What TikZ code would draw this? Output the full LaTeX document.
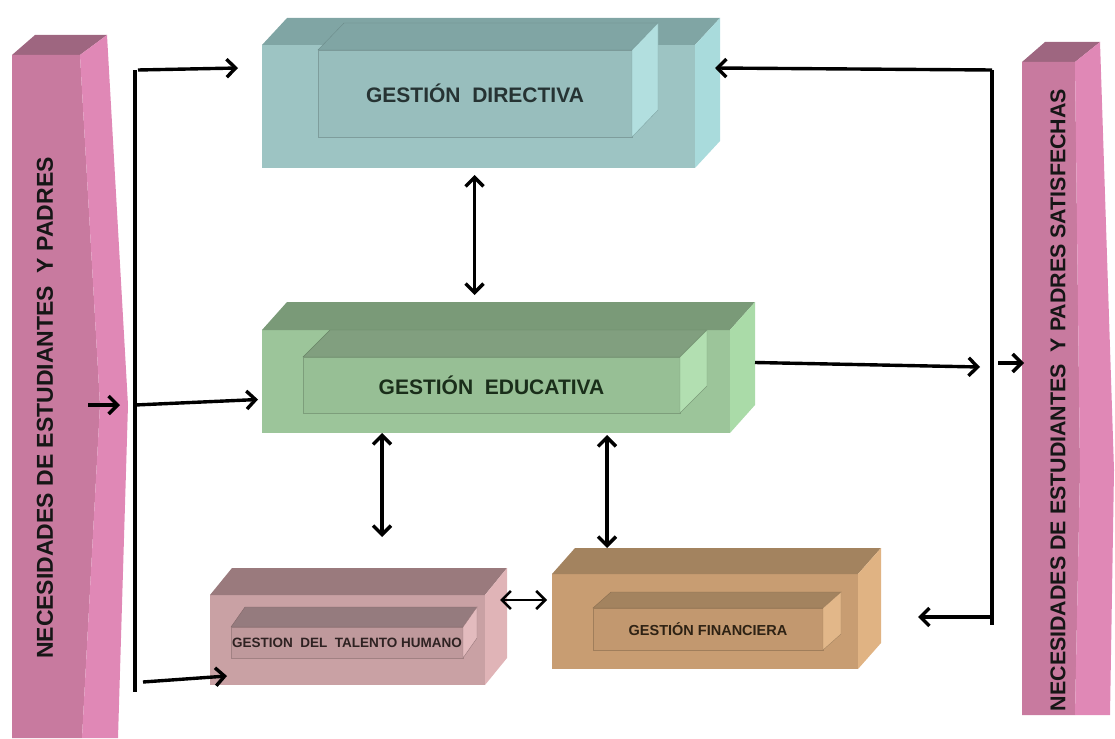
\documentclass[tikz,border=0pt]{standalone}
\usepackage{fontspec}
\setmainfont{Liberation Sans}
\usepackage{xcolor}
\usetikzlibrary{arrows.meta,calc,positioning}

\definecolor{dirfront}{HTML}{9DC4C3}
\definecolor{dirtop}{HTML}{80A5A4}
\definecolor{dirside}{HTML}{A9DBDC}
\definecolor{dirtext}{HTML}{263333}
\definecolor{edufront}{HTML}{9CC59A}
\definecolor{edutop}{HTML}{7A9A78}
\definecolor{eduside}{HTML}{AADBA8}
\definecolor{edutext}{HTML}{1A2E1A}
\definecolor{talfront}{HTML}{C9A1A4}
\definecolor{taltop}{HTML}{9A7A7D}
\definecolor{talside}{HTML}{E0B4B7}
\definecolor{taltext}{HTML}{2E2222}
\definecolor{finfront}{HTML}{C89D72}
\definecolor{fintop}{HTML}{A3835F}
\definecolor{finside}{HTML}{E0B383}
\definecolor{fintext}{HTML}{2E2214}
\definecolor{banfront}{HTML}{C87A9F}
\definecolor{bantop}{HTML}{9E6680}
\definecolor{banside}{HTML}{E088B6}
\definecolor{bantext}{HTML}{161616}

% top and side faces of a box drawn behind a front node
\newcommand{\extrude}[5]{%
  \path[#4] (#1.north west) -- ++(#2,-#3) -- ($(#1.north east)+(#2,-#3)$) -- (#1.north east) -- cycle;
  \path[#5] (#1.north east) -- ++(#2,-#3) -- ($(#1.south east)+(#2,-#3)$) -- (#1.south east) -- cycle;
}

\begin{document}
\begin{tikzpicture}[
    x=1pt, y=-1pt,
    facebox/.style={rectangle, inner sep=0, outer sep=0},
    inbox/.style={facebox, draw=#1!80!black, line width=0.4pt},
    bigtext/.style={font=\bfseries\fontsize{21}{21}\selectfont},
    smalltext/.style={font=\bfseries\fontsize{13.5}{13.5}\selectfont},
    bantext/.style={rotate=90, text=bantext, font=\bfseries\fontsize{23}{23}\selectfont},
    vline/.style={line width=3.6pt},
    arr/.style={-{Straight Barb[length=9pt,width=18pt]}, line width=3.4pt},
    dbl/.style={{Straight Barb[length=9pt,width=18pt]}-{Straight Barb[length=9pt,width=18pt]}, line width=3.4pt}]
\useasboundingbox (0,0) rectangle (1115,738);

% side banners
\fill[bantop] (12,55) -- (35,35) -- (107,35) -- (80,55) -- cycle;
\fill[banfront] (12,55) -- (80,55) -- (100,405) -- (82,738) -- (12,738) -- cycle;
\fill[banside] (80,55) -- (107,35) -- (128,405) -- (118,738) -- (82,738) -- (100,405) -- cycle;
\coordinate (lpoint) at (128,405);
\node[bantext] (lneeds) at (45,408) {NECESIDADES DE ESTUDIANTES\ \ Y PADRES};

\fill[bantop] (1022,62) -- (1045,42) -- (1100,42) -- (1075,62) -- cycle;
\fill[banfront] (1022,62) -- (1075,62) -- (1080,470) -- (1075,715) -- (1022,715) -- cycle;
\fill[banside] (1075,62) -- (1100,42) -- (1114,470) -- (1110,715) -- (1075,715) -- (1080,470) -- cycle;
\coordinate (rpoint) at (1024,363);
\node[bantext, font=\bfseries\fontsize{21.4}{21.4}\selectfont] (rneeds) at (1058,400) {NECESIDADES DE ESTUDIANTES\ \ Y PADRES SATISFECHAS};

% gestion directiva
\node[facebox, fill=dirfront, minimum width=433, minimum height=123] (dir) at (478.5,106.5) {};
\extrude{dir}{25}{27}{fill=dirtop}{fill=dirside}
\node[inbox=dirfront, fill=dirfront!97!black, minimum width=314, minimum height=87, bigtext, text=dirtext] (dirin) at (475,93.5) {GESTIÓN\ \ DIRECTIVA};
\extrude{dirin}{26}{27}{fill=dirtop, draw=dirtop!85!black, line width=0.4pt}{fill=dirside!90!white, draw=dirtop, line width=0.4pt}

% gestion educativa
\node[facebox, fill=edufront, minimum width=468, minimum height=103] (edu) at (496,381.5) {};
\extrude{edu}{25}{28}{fill=edutop}{fill=eduside}
\node[inbox=edufront, fill=edufront!97!black, minimum width=377, minimum height=56, bigtext, text=edutext] (eduin) at (491.5,385) {GESTIÓN\ \ EDUCATIVA};
\extrude{eduin}{27}{27}{fill=edutop!95!white, draw=edutop!85!black, line width=0.4pt}{fill=eduside!90!white, draw=edutop, line width=0.4pt}

% gestion del talento humano
\node[facebox, fill=talfront, minimum width=275, minimum height=90] (tal) at (347.5,640) {};
\extrude{tal}{22}{27}{fill=taltop}{fill=talside}
\node[inbox=talfront, fill=talfront!95!black, minimum width=232, minimum height=31, smalltext, text=taltext] (talin) at (347,642.5) {GESTION\ \ DEL\ \ TALENTO HUMANO};
\extrude{talin}{14}{20}{fill=taltop!80!gray, draw=taltop!85!black, line width=0.4pt}{fill=talside!90!white, draw=taltop, line width=0.4pt}

% gestion financiera
\node[facebox, fill=finfront, minimum width=306, minimum height=95] (fin) at (705,621.5) {};
\extrude{fin}{23}{26}{fill=fintop}{fill=finside}
\node[inbox=finfront, fill=finfront!97!black, minimum width=230, minimum height=42, font=\bfseries\fontsize{14.5}{14.5}\selectfont, text=fintext] (finin) at (708,629) {GESTIÓN FINANCIERA};
\extrude{finin}{18}{16}{fill=fintop, draw=fintop!85!black, line width=0.4pt}{fill=finside!95!white, draw=fintop, line width=0.4pt}

% collecting lines
\coordinate (ltop) at (135,70);
\coordinate (lmid) at (135,405);
\coordinate (lbot) at (135,692);
\coordinate (lbotarr) at (143,682);
\coordinate (rtop) at (992,70);
\coordinate (rmid) at (992,365);
\coordinate (rbot) at (992,625);
\coordinate (rbotarr) at (992,617);
\draw[vline] (ltop) -- (lbot);
\draw[vline] (rtop) -- (rbot);

% connectors
\draw[arr] ($(lpoint)+(-40,0)$) -- ($(lpoint)+(-8,0)$);
\draw[arr] ($(ltop)+(3,0)$) -- ($(ltop -| dir.west)+(-24,-2)$);
\draw[arr] (lmid) -- ($(edu.west)+(-4,18)$);
\draw[arr] (lbotarr) -- ($(tal.south west)+(17,-9)$);
\draw[arr] (rtop) -- ($(rtop -| dir.east)+(20,-2)$);
\draw[arr] (rbotarr) -- ($(rbotarr -| fin.east)+(60,0)$);
\draw[arr] ($(edu.east)+(25,-19)$) -- ($(rmid)+(-12,2)$);
\draw[arr] ($(rpoint)+(-26,0)$) -- (rpoint);
\draw[dbl] ($(dir.south)+(-4,7)$) -- ($(dir.south |- edu.north)+(-4,-35)$);
\draw[dbl] ($(edu.south)+(-114,0)$) -- ($(tal.north)+(34.5,-58)$);
\draw[dbl] ($(edu.south)+(111,2)$) -- ($(fin.north)+(-98,-26)$);
\draw[dbl, line width=2.6pt] ($(tal.east)+(15,-40)$) -- ($(tal.east -| fin.west)+(-5,-40)$);

\end{tikzpicture}
\end{document}
